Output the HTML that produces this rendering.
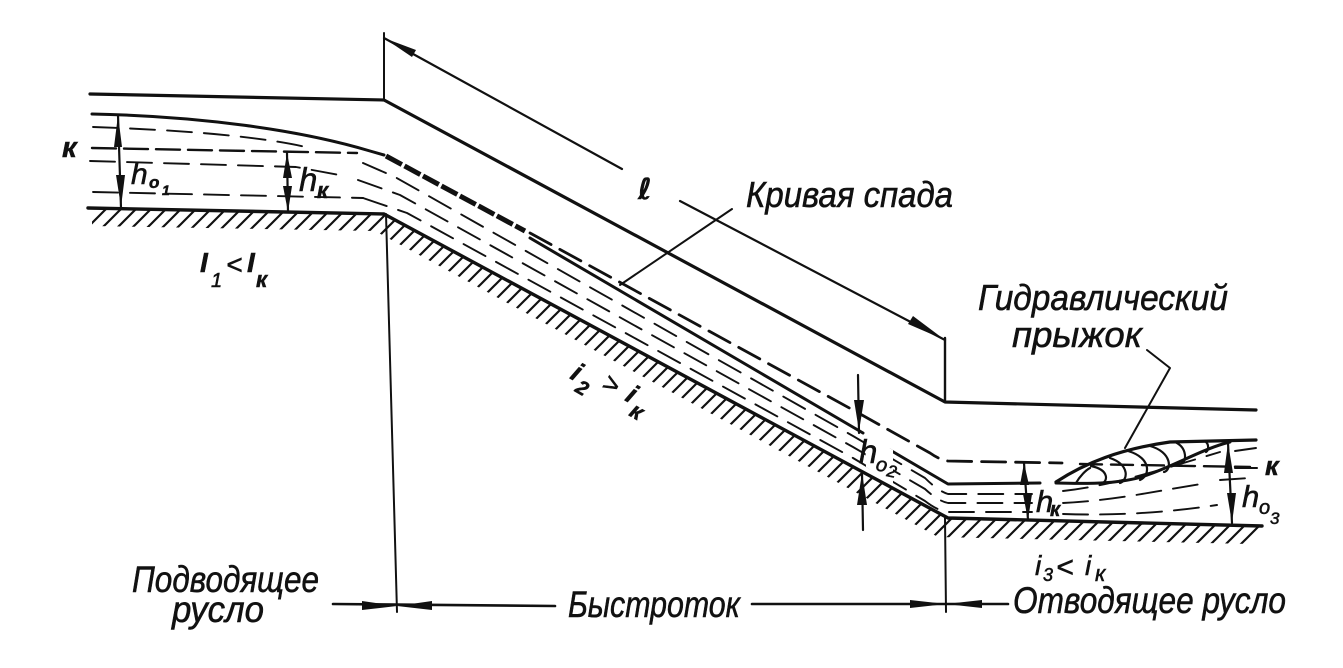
<!DOCTYPE html>
<html><head><meta charset="utf-8"><style>
html,body{margin:0;padding:0;background:#fff}
svg{display:block}
text{font-family:"Liberation Sans","DejaVu Sans",sans-serif;font-style:italic;fill:#111;stroke:#111;stroke-width:.55}
</style></head><body>
<svg width="1343" height="668" viewBox="0 0 1343 668" xmlns="http://www.w3.org/2000/svg">
<defs>
<pattern id="h" patternUnits="userSpaceOnUse" width="15" height="15"><path d="M-2 17L17 -2M-2 2L2 -2M13 17L17 13" stroke="#111" stroke-width="2.2"/></pattern>
</defs>
<rect width="1343" height="668" fill="#fff"/>
<!-- hatching -->
<polygon points="92,209 384,214 948,518 1262,526 1250,544 938,537 375,231 92,226" fill="url(#h)"/>
<g fill="none" stroke="#111" stroke-linecap="round" stroke-linejoin="round">
<!-- main outlines -->
<path d="M90 94L384 100L945 402L1256 410" stroke-width="3.2"/>
<path d="M88 208L384 214L948 518L1262 526" stroke-width="3.4"/>
<path d="M92 114C200 116 300 130 370 151L384 155" stroke-width="3"/>
<path d="M530 238L863 433" stroke-width="3"/>
<path d="M890 450L948 484L1040 483" stroke-width="3"/>
<path d="M386 156L525 231" stroke-width="5" stroke-dasharray="18 3" stroke-linecap="butt"/>
<path d="M1056 482C1085 463 1120 449 1170 442L1256 440" stroke-width="3.2"/>
<path d="M1056 483C1090 484 1125 484 1150 474C1180 463 1205 448 1230 442" stroke-width="3"/>
<!-- rollers -->
<path d="M1076 483C1080 476 1086 470 1090 468M1091 466C1110 470 1108 482 1101 484M1110 458C1130 465 1128 480 1120 483M1128 451C1152 458 1150 476 1140 480M1150 446C1172 452 1172 470 1164 472M1175 442C1188 448 1186 462 1182 463M1205 441C1210 445 1208 451 1206 452" stroke-width="2.2"/>
<!-- critical depth line -->
<path d="M92 148L357 153" stroke-width="2.4" stroke-dasharray="24 8"/>
<path d="M530 233L853 410L930 453Q940 460 948 461L1062 463" stroke-width="2.8" stroke-dasharray="24 10"/>
<path d="M1080 464L1250 467" stroke-width="2.4" stroke-dasharray="22 9"/>
<!-- interior dashed water lines -->
<g stroke-width="1.9" stroke-dasharray="25 12">
<path d="M93 127C180 130 260 136 310 148"/>
<path d="M90 161L296 167L345 176"/>
<path d="M93 192L363 198"/>
<path d="M363 163L395 177L853 436L925 478Q938 491 948 494L1032 494"/>
<path d="M358 180L400 195L853 447L925 489Q938 501 948 503L1032 503"/>
<path d="M363 198L407 213L853 458L925 501Q938 511 948 512L1032 512"/>
<path d="M1063 491C1110 486 1160 470 1220 452"/>
<path d="M1063 503C1120 500 1160 490 1208 483"/>
<path d="M1063 514C1120 516 1170 512 1217 505"/>
<path d="M1235 451L1256 448"/>
<path d="M1220 480L1250 478"/>
</g>
<!-- vertical extension lines -->
<path d="M384 33V100" stroke-width="2"/>
<path d="M386 214L397 612" stroke-width="2"/>
<path d="M945 338V402" stroke-width="2.4"/>
<path d="M945 518L946 612" stroke-width="2"/>
<!-- l dimension -->
<path d="M384 38L622 169M680 201L945 340" stroke-width="2.2"/>
<!-- leaders -->
<path d="M732 209L620 285" stroke-width="2"/>
<path d="M1147 350L1170 368L1125 448" stroke-width="2"/>
<!-- dims -->
<path d="M118 115L121 208M287 153L288 212M1024 463L1028 520M1228 443L1232 523M858 375L859 433M862 473L863 530" stroke-width="2.2"/>
<path d="M333 604L555 606M752 604L1008 604" stroke-width="2.6"/>
<path d="M1235 468L1257 468" stroke-width="2"/>
</g>
<!-- gap behind h02 label -->
<polygon points="865,434 893,450 893,484 866,467" fill="#fff"/>
<!-- arrowheads -->
<g fill="#111">
<polygon points="118,115 114,147 122,147"/>
<polygon points="121,207 116,175 125,175"/>
<polygon points="287,153 283,178 292,178"/>
<polygon points="288,212 283,186 292,186"/>
<polygon points="1024,463 1020,485 1029,485"/>
<polygon points="1028,520 1023,494 1032,494"/>
<polygon points="1228,443 1224,473 1233,473"/>
<polygon points="1232,523 1227,493 1236,493"/>
<polygon points="859,431 854,400 864,400"/>
<polygon points="862,473 857,505 867,505"/>
<polygon points="384,38 416,50 412,57"/>
<polygon points="945,340 908,324 913,316"/>
<polygon points="397,606 362,601 362,610"/>
<polygon points="397,606 432,601 432,610"/>
<polygon points="946,604 910,600 910,608"/>
<polygon points="946,604 982,600 982,608"/>
</g>
<!-- labels -->
<text x="62" y="157" font-size="29" font-weight="bold">к</text>
<text x="131" y="184" font-size="30">h</text><text x="149" y="188" font-size="17" font-weight="bold">o</text><text x="162" y="195" font-size="14" font-weight="bold">1</text>
<text x="299" y="191" font-size="33">h</text><text x="317" y="198" font-size="22" font-weight="bold">к</text>
<text x="200" y="272" font-size="28" font-weight="bold">I</text><text x="211" y="287" font-size="20">1</text>
<text x="226" y="274" font-size="28">&lt;</text><text x="247" y="272" font-size="28" font-weight="bold">I</text><text x="256" y="287" font-size="22" font-weight="bold">к</text>
<text x="638" y="199" font-size="29" font-weight="bold" style="font-family:'DejaVu Sans',sans-serif">ℓ</text>
<text x="746" y="207" font-size="36" textLength="207" lengthAdjust="spacingAndGlyphs">Кривая спада</text>
<text x="978" y="310" font-size="36" textLength="250" lengthAdjust="spacingAndGlyphs">Гидравлический</text>
<text x="1012" y="347" font-size="36" textLength="130" lengthAdjust="spacingAndGlyphs">прыжок</text>
<text x="569" y="378" font-size="27" font-weight="bold" transform="rotate(30 569 378)">i</text>
<text x="574" y="391" font-size="20" font-weight="bold" transform="rotate(30 574 391)">2</text>
<text x="600" y="388" font-size="27" transform="rotate(30 600 388)">&gt;</text>
<text x="624" y="400" font-size="27" font-weight="bold" transform="rotate(30 624 400)">i</text>
<text x="628" y="415" font-size="23" font-weight="bold" transform="rotate(30 628 415)">к</text>
<text x="859" y="463" font-size="33">h</text><text x="875" y="470" font-size="20" transform="rotate(12 875 470)">o</text><text x="886" y="476" font-size="17" transform="rotate(12 886 476)">2</text>
<text x="1036" y="512" font-size="31">h</text><text x="1050" y="516" font-size="20" font-weight="bold">к</text>
<text x="1242" y="507" font-size="31">h</text><text x="1259" y="514" font-size="20">o</text><text x="1270" y="524" font-size="17">3</text>
<text x="1265" y="475" font-size="27" font-weight="bold">к</text>
<text x="1035" y="575" font-size="28">i</text><text x="1043" y="581" font-size="18">3</text><text x="1056" y="577" font-size="30">&lt;</text><text x="1085" y="575" font-size="28">i</text><text x="1095" y="581" font-size="22">к</text>
<text x="132" y="592" font-size="37" textLength="187" lengthAdjust="spacingAndGlyphs">Подводящее</text>
<text x="172" y="622" font-size="37" textLength="92" lengthAdjust="spacingAndGlyphs">русло</text>
<text x="568" y="617" font-size="37" textLength="172" lengthAdjust="spacingAndGlyphs">Быстроток</text>
<text x="1013" y="613" font-size="37" textLength="273" lengthAdjust="spacingAndGlyphs">Отводящее русло</text>
</svg>
</body></html>
